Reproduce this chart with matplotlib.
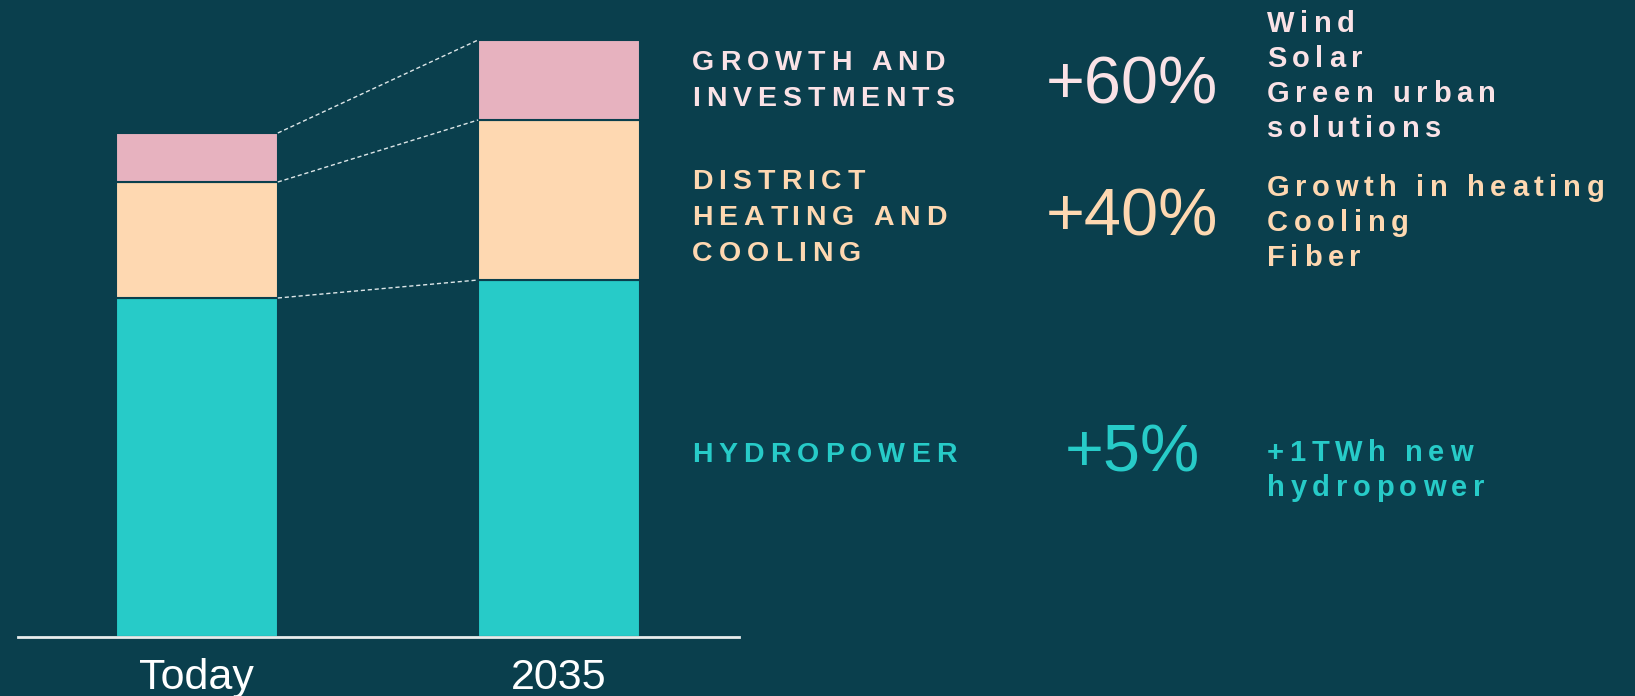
import matplotlib
matplotlib.use("Agg")
import matplotlib.pyplot as plt
from matplotlib.font_manager import FontProperties

# data (bar heights, arbitrary units)
periods = ["Today", "2035"]
hydropower = [33.9, 35.7]
district_heating = [11.6, 16.0]
growth = [4.9, 8.0]

titles = ["HYDROPOWER", "DISTRICT\nHEATING AND\nCOOLING", "GROWTH AND\nINVESTMENTS"]
changes = ["+5%", "+40%", "+60%"]
details = [["+1TWh new", "hydropower"],
           ["Growth in heating", "Cooling", "Fiber"],
           ["Wind", "Solar", "Green urban", "solutions"]]

bg = "#0A3F4D"
teal = "#27CBC8"
peach = "#FED8B1"
pink = "#E7B2BF"
pink_txt = "#FAE2E6"
txt_colors = [teal, peach, pink_txt]

W, H = 1635, 696
fig = plt.figure(figsize=(W / 100, H / 100), dpi=100, facecolor=bg)

# bar axes, baseline at y=637px
ax = fig.add_axes([18 / W, (H - 637) / H, (739 - 18) / W, 637 / H])
ax.set_facecolor(bg)
x = [0, 1]
bw = 0.447
ax.bar(x, hydropower, bw, color=teal, edgecolor=bg, linewidth=1.5)
ax.bar(x, district_heating, bw, bottom=hydropower, color=peach,
       edgecolor=bg, linewidth=1.5)
bottom3 = [h + d for h, d in zip(hydropower, district_heating)]
ax.bar(x, growth, bw, bottom=bottom3, color=pink, edgecolor=bg, linewidth=1.5)

# dashed connectors between segment tops
tops_today = [hydropower[0], bottom3[0], bottom3[0] + growth[0]]
tops_2035 = [hydropower[1], bottom3[1], bottom3[1] + growth[1]]
for t0, t1 in zip(tops_today, tops_2035):
    ax.plot([x[0] + bw / 2, x[1] - bw / 2], [t0, t1], color="#DDE6E8",
            lw=1, ls=(0, (3, 2)))

ax.set_xlim(-0.494, 1.497)
ax.set_ylim(0, 63.7)
for s in ["top", "right", "left"]:
    ax.spines[s].set_visible(False)
ax.spines["bottom"].set_color("#E8ECEC")
ax.spines["bottom"].set_linewidth(2)
ax.set_yticks([])
ax.set_xticks(x)
ax.set_xticklabels(periods, fontsize=31, color="white", family="Liberation Sans")
ax.tick_params(axis="x", length=0, pad=15)

renderer = fig.canvas.get_renderer()


def text_width(s, prop):
    w1 = renderer.get_text_width_height_descent(s + "|", prop, ismath=False)[0]
    w2 = renderer.get_text_width_height_descent("|", prop, ismath=False)[0]
    return w1 - w2


def spaced(xp, yp, s, color, size=20.5, track=6):
    # letter-spaced text, xp/yp in pixels from top-left, yp = baseline
    prop = FontProperties(family="Liberation Sans", weight="bold", size=size)
    for i, ch in enumerate(s):
        if ch == " ":
            continue
        off = text_width(s[:i], prop) + i * track
        fig.text((xp + off) / W, 1 - yp / H, ch, color=color,
                 fontproperties=prop, va="baseline", ha="left")


title_y = [462, 189, 70]
change_y = [472, 236, 103]
detail_y = [461, 196, 32]
for i in range(3):
    for j, line in enumerate(titles[i].split("\n")):
        spaced(692, title_y[i] + j * 36, line, txt_colors[i])
    fig.text(1132 / W, 1 - change_y[i] / H, changes[i], color=txt_colors[i],
             fontsize=48, family="Liberation Sans", ha="center", va="baseline")
    for j, line in enumerate(details[i]):
        spaced(1267, detail_y[i] + j * 35, line, txt_colors[i], size=21, track=5.6)

fig.savefig("out.png", dpi=100, facecolor=bg)
